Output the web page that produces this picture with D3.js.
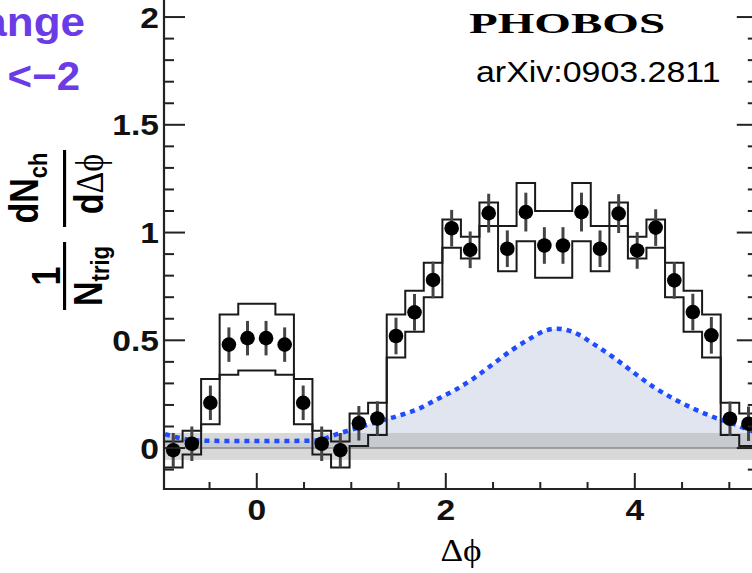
<!DOCTYPE html>
<html>
<head>
<meta charset="utf-8">
<script src="https://cdn.jsdelivr.net/npm/d3@7"></script>
<style>
  html, body { margin: 0; padding: 0; background: #fff; }
  svg { display: block; }
</style>
</head>
<body>
<svg id="chart" width="752" height="573"></svg>
<script>
// Δφ bin centres (32 bins over 2π) and per-trigger yields
const binCenters = [-0.884, -0.687, -0.491, -0.295, -0.098, 0.098, 0.295, 0.491, 0.687, 0.884,
  1.080, 1.276, 1.473, 1.669, 1.865, 2.062, 2.258, 2.454, 2.651, 2.847, 3.043, 3.240,
  3.436, 3.632, 3.829, 4.025, 4.221, 4.418, 4.614, 4.810, 5.007, 5.203];
const binHalfWidth = 0.098;
const yields = [-0.01, 0.02, 0.21, 0.48, 0.51, 0.51, 0.48, 0.21, 0.02, -0.01,
  0.115, 0.137, 0.52, 0.63, 0.78, 1.02, 0.92, 1.09, 0.925, 1.095, 0.94, 0.94,
  1.095, 0.925, 1.088, 0.917, 1.023, 0.778, 0.631, 0.523, 0.136, 0.113];
const statErr = [0.08, 0.08, 0.08, 0.08, 0.08, 0.08, 0.08, 0.08, 0.08, 0.08,
  0.08, 0.08, 0.085, 0.085, 0.085, 0.085, 0.085, 0.09, 0.085, 0.09, 0.085, 0.085,
  0.09, 0.085, 0.09, 0.085, 0.085, 0.085, 0.085, 0.085, 0.08, 0.08];
// systematic envelope (lower / upper edge per bin)
const sysLow = [-0.09, -0.03, 0.11, 0.34, 0.36, 0.36, 0.34, 0.11, -0.03, -0.09,
  0.01, 0.06, 0.42, 0.54, 0.70, 0.93, 0.88, 1.03, 0.82, 0.96, 0.79, 0.79,
  0.96, 0.82, 1.03, 0.88, 0.93, 0.70, 0.54, 0.42, 0.06, 0.01];
const sysHigh = [0.03, 0.08, 0.32, 0.62, 0.67, 0.67, 0.62, 0.32, 0.08, 0.03,
  0.16, 0.21, 0.62, 0.73, 0.86, 1.06, 0.98, 1.14, 1.03, 1.23, 1.10, 1.10,
  1.23, 1.03, 1.14, 0.98, 1.06, 0.86, 0.73, 0.62, 0.21, 0.16];

// background (flow-modulated) estimate, blue dotted curve
const bgPhi = [-0.97, -0.8, -0.6, -0.3, 0.0, 0.3, 0.63, 0.85, 1.09, 1.3, 1.5, 1.7, 1.9,
  2.1, 2.3, 2.5, 2.7, 2.9, 3.05, 3.17, 3.35, 3.56, 3.77, 3.98, 4.2, 4.41, 4.62, 4.83, 5.04, 5.22, 5.30];
const bgVal = [0.065, 0.045, 0.035, 0.033, 0.033, 0.033, 0.035, 0.065, 0.097, 0.125, 0.15, 0.18, 0.225,
  0.27, 0.325, 0.39, 0.455, 0.51, 0.545, 0.554, 0.538, 0.484, 0.422, 0.353, 0.283, 0.229, 0.183, 0.144, 0.113, 0.082, 0.07];

// ZYAM uncertainty band
const bandLow = -0.055, bandHigh = 0.07, zeroLevel = 0.0;

const xMajor = [0, 2, 4];
const xMinor = [-0.5, 0.5, 1, 1.5, 2.5, 3, 3.5, 4.5, 5];
const yMajor = [0, 0.5, 1, 1.5, 2];
const yMinor = [-0.1, 0.1, 0.2, 0.3, 0.4, 0.6, 0.7, 0.8, 0.9, 1.1, 1.2, 1.3, 1.4, 1.6, 1.7, 1.8, 1.9, 2.1];
const yTickLabels = ["0", "0.5", "1", "1.5", "2"];
const xTickLabels = ["0", "2", "4"];

const svg = d3.select("#chart");
const frameLeft = 164, frameRight = 757.8, frameBottom = 489, frameTop = -4.5;

const x = d3.scaleLinear().domain([-5 * Math.PI / 16, 27 * Math.PI / 16]).range([frameLeft, frameRight]);
const y = d3.scaleLinear().domain([-0.19, 2.1]).range([frameBottom, frameTop]);

const plot = svg.append("g");
plot.append("clipPath").attr("id", "clip")
  .append("rect").attr("x", frameLeft).attr("y", frameTop)
  .attr("width", frameRight - frameLeft).attr("height", frameBottom - frameTop);
const inner = plot.append("g").attr("clip-path", "url(#clip)");

// shaded region under the background curve
const bgPts = bgPhi.map((p, i) => [p, bgVal[i]]);
inner.append("path")
  .datum(bgPts)
  .attr("d", d3.area().x(d => x(d[0])).y0(y(zeroLevel)).y1(d => y(d[1])).curve(d3.curveMonotoneX))
  .attr("fill", "#e0e5ef");

// ZYAM band
inner.append("rect")
  .attr("x", frameLeft).attr("width", frameRight - frameLeft)
  .attr("y", y(bandHigh)).attr("height", y(bandLow) - y(bandHigh))
  .attr("fill", "#a8a8a8").attr("fill-opacity", 0.45);
inner.append("line")
  .attr("x1", frameLeft).attr("x2", frameRight)
  .attr("y1", y(zeroLevel)).attr("y2", y(zeroLevel))
  .attr("stroke", "#8c8c8c").attr("stroke-width", 1.5);

// blue dotted curve
inner.append("path")
  .datum(bgPts)
  .attr("d", d3.line().x(d => x(d[0])).y(d => y(d[1])).curve(d3.curveMonotoneX))
  .attr("fill", "none")
  .attr("stroke", "#1f4cff")
  .attr("stroke-width", 4.5)
  .attr("stroke-dasharray", "5 5");

// systematic envelope drawn as two step histograms
const sysG = inner.append("g").attr("fill", "none").attr("stroke", "#1a1a1a").attr("stroke-width", 2);
function stepPts(vals) {
  const pts = binCenters.map((c, i) => [c - binHalfWidth, vals[i]]);
  pts.push([binCenters[binCenters.length - 1] + binHalfWidth, vals[vals.length - 1]]);
  return pts;
}
const stepLine = d3.line().x(d => x(d[0])).y(d => y(d[1])).curve(d3.curveStepAfter);
sysG.append("path").attr("d", stepLine(stepPts(sysHigh)));
sysG.append("path").attr("d", stepLine(stepPts(sysLow)));

// statistical error bars
inner.append("g").selectAll("line").data(binCenters).join("line")
  .attr("x1", d => x(d)).attr("x2", d => x(d))
  .attr("y1", (d, i) => y(yields[i] - statErr[i]))
  .attr("y2", (d, i) => y(yields[i] + statErr[i]))
  .attr("stroke", "#444").attr("stroke-width", 3);

// data points
inner.append("g").selectAll("circle").data(binCenters).join("circle")
  .attr("cx", d => x(d)).attr("cy", (d, i) => y(yields[i]))
  .attr("r", 7.3).attr("fill", "#000");

// axes
const axisG = svg.append("g").attr("stroke", "#222");
axisG.append("line").attr("x1", frameLeft).attr("x2", frameLeft).attr("y1", frameTop).attr("y2", frameBottom + 1).attr("stroke-width", 2.2);
axisG.append("line").attr("x1", frameLeft).attr("x2", frameRight).attr("y1", frameBottom).attr("y2", frameBottom).attr("stroke-width", 2.2);
axisG.append("line").attr("x1", frameRight).attr("x2", frameRight).attr("y1", frameTop).attr("y2", frameBottom).attr("stroke-width", 2.2);

// y ticks, left and right
yMajor.forEach(v => {
  axisG.append("line").attr("x1", frameLeft).attr("x2", frameLeft + 21).attr("y1", y(v)).attr("y2", y(v)).attr("stroke-width", 2);
  axisG.append("line").attr("x1", frameRight).attr("x2", frameRight - 21).attr("y1", y(v)).attr("y2", y(v)).attr("stroke-width", 2);
});
yMinor.forEach(v => {
  axisG.append("line").attr("x1", frameLeft).attr("x2", frameLeft + 10).attr("y1", y(v)).attr("y2", y(v)).attr("stroke-width", 2);
  axisG.append("line").attr("x1", frameRight).attr("x2", frameRight - 10).attr("y1", y(v)).attr("y2", y(v)).attr("stroke-width", 2);
});
// x ticks
xMajor.forEach(v => {
  axisG.append("line").attr("x1", x(v)).attr("x2", x(v)).attr("y1", frameBottom).attr("y2", frameBottom - 16).attr("stroke-width", 2);
});
xMinor.forEach(v => {
  axisG.append("line").attr("x1", x(v)).attr("x2", x(v)).attr("y1", frameBottom).attr("y2", frameBottom - 7).attr("stroke-width", 2);
});

// text helper with horizontal stretch
function label(px, py, str, opts) {
  const g = svg.append("g").attr("transform", `translate(${px},${py}) scale(${opts.sx || 1},1)`);
  return g.append("text")
    .attr("x", 0).attr("y", 0)
    .attr("text-anchor", opts.anchor || "start")
    .attr("font-family", opts.family || "'Liberation Sans', Arial, sans-serif")
    .attr("font-weight", opts.weight || "normal")
    .attr("font-size", opts.size)
    .attr("fill", opts.fill || "#000")
    .text(str);
}

yMajor.forEach((v, i) => {
  label(159, y(v) + 10.5, yTickLabels[i], { anchor: "end", size: 30, weight: "bold", sx: 1.12, fill: "#111" });
});
xMajor.forEach((v, i) => {
  label(x(v), 520, xTickLabels[i], { anchor: "middle", size: 30, weight: "bold", sx: 1.12, fill: "#111" });
});

const sans = "'Liberation Sans', Arial, sans-serif";
const serif = "'Liberation Serif', 'DejaVu Serif', serif";

// x-axis title
label(461, 561, "Δϕ", { anchor: "middle", size: 32, family: serif, sx: 1.1 });

// y-axis title: (1/N_trig) dN_ch/dΔϕ, rotated
const yt = svg.append("g").attr("transform", "rotate(-90) scale(1,1.2)");
yt.append("text").attr("x", -276).attr("y", 50).attr("text-anchor", "middle")
  .attr("font-family", sans).attr("font-weight", "bold").attr("font-size", 34).text("1");
yt.append("rect").attr("x", -310).attr("width", 68).attr("y", 52.5).attr("height", 2.6).attr("fill", "#000");
const nt = yt.append("text").attr("x", -276).attr("y", 85).attr("text-anchor", "middle")
  .attr("font-family", sans).attr("font-weight", "bold").attr("font-size", 34);
nt.append("tspan").text("N");
nt.append("tspan").attr("font-size", 22).attr("dy", 6).text("trig");
const dn = yt.append("text").attr("x", -188).attr("y", 31.5).attr("text-anchor", "middle")
  .attr("font-family", sans).attr("font-weight", "bold").attr("font-size", 34);
dn.append("tspan").text("dN");
dn.append("tspan").attr("font-size", 22).attr("dy", 8).text("ch");
yt.append("rect").attr("x", -227).attr("width", 77).attr("y", 52.5).attr("height", 2.6).attr("fill", "#000");
const dd = yt.append("text").attr("x", -184).attr("y", 86).attr("text-anchor", "middle")
  .attr("font-size", 34);
dd.append("tspan").attr("font-family", sans).attr("font-weight", "bold").text("d");
dd.append("tspan").attr("font-family", serif).text("Δϕ");

// experiment / reference labels
label(567, 33, "PHOBOS", { anchor: "middle", size: 30, weight: "bold", family: serif, sx: 1.57 });
label(476, 82, "arXiv:0903.2811", { anchor: "start", size: 29, sx: 1.17 });

// selection label (runs off the left edge of the canvas)
label(85, 36, "Δη range", { anchor: "end", size: 40, weight: "bold", fill: "#6a3be6", sx: 1.1 });
label(80, 90, "−4 < Δη <−2", { anchor: "end", size: 40, weight: "bold", fill: "#6a3be6", sx: 1.05 });
</script>
</body>
</html>
